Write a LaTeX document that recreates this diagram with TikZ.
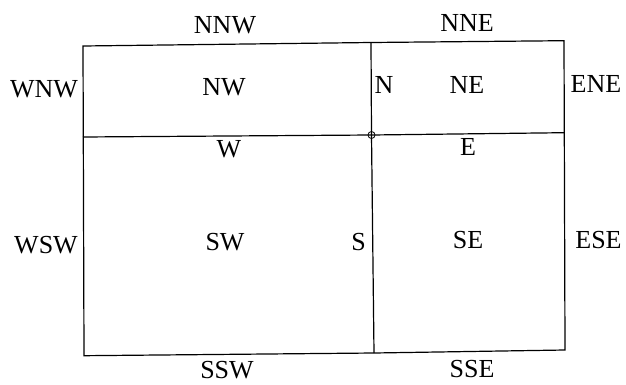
\documentclass[tikz,border=0pt]{standalone}
\usepackage{fontspec}
\setmainfont{Liberation Serif}
\usetikzlibrary{positioning}

\begin{document}
\begin{tikzpicture}[x=1pt,y=1pt,line width=1.2pt,
    lbl/.style={inner sep=0pt,font=\fontsize{26}{30}\selectfont}]
  \useasboundingbox (0,0) rectangle (626,384);
  % frame (the scan is a little skewed)
  \coordinate (tl) at (83,338);
  \coordinate (tm) at (371,341.5);
  \coordinate (tr) at (564,343.3);
  \coordinate (bl) at (84,28.3);
  \coordinate (bm) at (374,31);
  \coordinate (br) at (565,34);
  \coordinate (ml) at (83,247);
  \coordinate (mr) at (564,251.3);
  \node[draw,circle,line width=0.8pt,minimum size=7pt,inner sep=0pt] (o) at (371.5,249) {};
  \draw (tl) -- (tm) -- (tr) -- (br) -- (bm) -- (bl) -- cycle;
  \draw (tm) -- (o.center) -- (bm);
  \draw (ml) -- (o.center) -- (mr);
  % labels
  \foreach \n/\x/\y in {NNW/225/359, NNE/467/361, WNW/44/295, NW/224/296.5,
      N/384/299, NE/467/299, ENE/596/300.5, W/229/235, E/468/237,
      WSW/46/138.5, SW/225/141.5, S/358.5/142, SE/468/144, ESE/598.5/144,
      SSW/227/14, SSE/472/15}
    \node[lbl] (l\n) at (\x,\y) {\n};
\end{tikzpicture}
\end{document}
